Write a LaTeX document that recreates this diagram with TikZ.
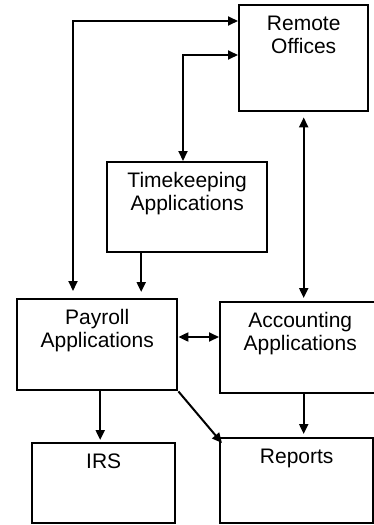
\documentclass[tikz,border=0pt]{standalone}
\usepackage{fontspec}
\setmainfont{Liberation Sans}
\usetikzlibrary{arrows.meta}

\tikzset{
  block/.style={draw=black, line width=2.4pt, inner sep=0pt, align=center,
    anchor=north west, text height=25pt, font=\fontsize{21}{23}\selectfont},
  link/.style={line width=2pt}
}

\begin{document}
\begin{tikzpicture}[x=1pt, y=-1pt, >={Triangle[length=10pt,width=9pt]}]
      \useasboundingbox (0,0) rectangle (374,525);

      \node[block, text width=129pt, text depth=81pt](remote) at (238,4) {Remote\\Offices};
      \node[block, text width=160pt, text depth=65pt](time) at (106,161) {Timekeeping\\Applications};
      \node[block, text width=160pt, text depth=66pt](payroll) at (16,298) {Payroll\\Applications};
      \node[block, text width=160pt, text depth=66pt](acct) at (219,301) {Accounting\\Applications};
      \node[block, text width=143pt, text depth=55pt](irs) at (31,442) {IRS};
      \node[block, text width=153pt, text depth=60pt](reports) at (219,437) {Reports};

      \coordinate (c1) at (73,21);
      \coordinate (c2) at (183,55);
      \coordinate (c3) at (0,337);

      \draw [link, <->, shorten <=7pt] (payroll.north -| c1) |- (remote.west |- c1);
      \draw [link, <->] (time.north -| c2) |- (remote.west |- c2);
      \draw [link, ->, shorten >=6pt] ([xshift=-46pt]time.south) -- ([xshift=-46pt]time.south |- payroll.north);
      \draw [link, <->, shorten <=5pt, shorten >=3pt] (remote.south) -- (remote.south |- acct.north);
      \draw [link, <->] (payroll.east |- c3) -- (acct.west |- c3);
      \draw [link, ->, shorten >=2pt] ([xshift=3pt]payroll.south) -- ([xshift=3pt]payroll.south |- irs.north);
      \draw [link, ->] (payroll.south east) -- ([shift={(3pt,-6pt)}]reports.north west);
      \draw [link, ->, shorten >=3pt] (acct.south -| remote.south) -- (reports.north -| remote.south);
    \end{tikzpicture}
\end{document}
